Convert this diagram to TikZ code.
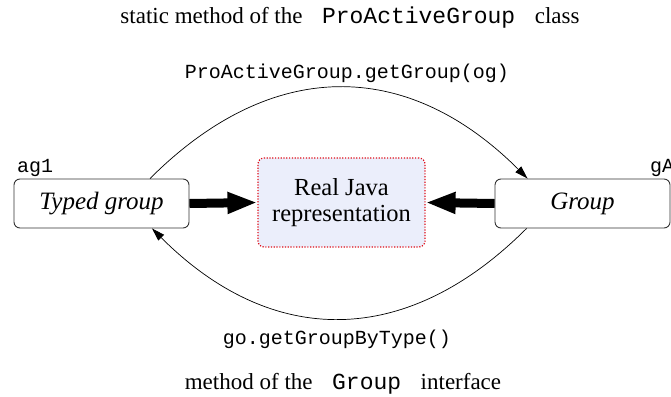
\documentclass[tikz,border=0pt]{standalone}
\usepackage{fontspec}
\setmainfont{Liberation Serif}
\setmonofont{Liberation Mono}
\usetikzlibrary{arrows.meta,calc}
\definecolor{paleblue}{HTML}{EBEEFB}
\definecolor{dotred}{HTML}{E0101A}
\begin{document}
\begin{tikzpicture}[x=1pt,y=-1pt,
  grp/.style={draw=black!80,line width=0.9pt,rounded corners=6pt,minimum width=175pt,minimum height=49pt,inner sep=0pt,font=\fontsize{25}{29}\selectfont\itshape},
  realbox/.style={draw=dotred,fill=paleblue,line width=1.2pt,dash pattern=on 1.2pt off 1.6pt,rounded corners=6pt,minimum width=167pt,minimum height=89pt,inner sep=0pt,align=center,font=\fontsize{24.5}{26}\selectfont},
  thick arrow/.style={line width=9pt,-{Triangle[length=30pt,width=20pt]}},
  call/.style={line width=0.7pt,-{Triangle[length=13pt,width=8pt]}},
  codelabel/.style={inner sep=0pt,font=\fontsize{20}{24}\selectfont\ttfamily},
  title/.style={inner sep=0pt,font=\fontsize{23}{27}\selectfont}]
\useasboundingbox (0,0) rectangle (671,396);
\node[grp] (tg) at (101.5,203.5) {Typed group};
\node[grp] (g) at (582.5,203.5) {Group};
\node[realbox] (real) at (341.5,202.5) {Real Java\\representation};
\node[codelabel,anchor=base west] (ag) at (17,172) {ag1};
\node[codelabel,anchor=base west] (ga) at (650,172) {gA};
\node[title,anchor=base] (t1) at (350,24) {static method of the \texttt{ ProActiveGroup } class};
\node[codelabel,anchor=base] (l1) at (347,78) {ProActiveGroup.getGroup(og)};
\node[codelabel,anchor=base] (l2) at (337,344) {go.getGroupByType()};
\node[title,anchor=base] (t2) at (343,389) {method of the \texttt{ Group } interface};
\draw[thick arrow] (tg.east) -- (real.west);
\draw[thick arrow] (g.west) -- (real.east);
\coordinate (s1) at ($(tg.north)+(48.5,0)$);
\coordinate (e1) at ($(g.north west)+(33,0)$);
\coordinate (s2) at ($(g.south west)+(32,0)$);
\coordinate (e2) at ($(tg.south)+(50.5,0)$);
\draw[call] (s1) .. controls ($(s1)+(121,-121)$) and ($(e1)+(-121,-121)$) .. (e1);
\draw[call] (s2) .. controls ($(s2)+(-120,120)$) and ($(e2)+(120,120)$) .. (e2);
\end{tikzpicture}
\end{document}
